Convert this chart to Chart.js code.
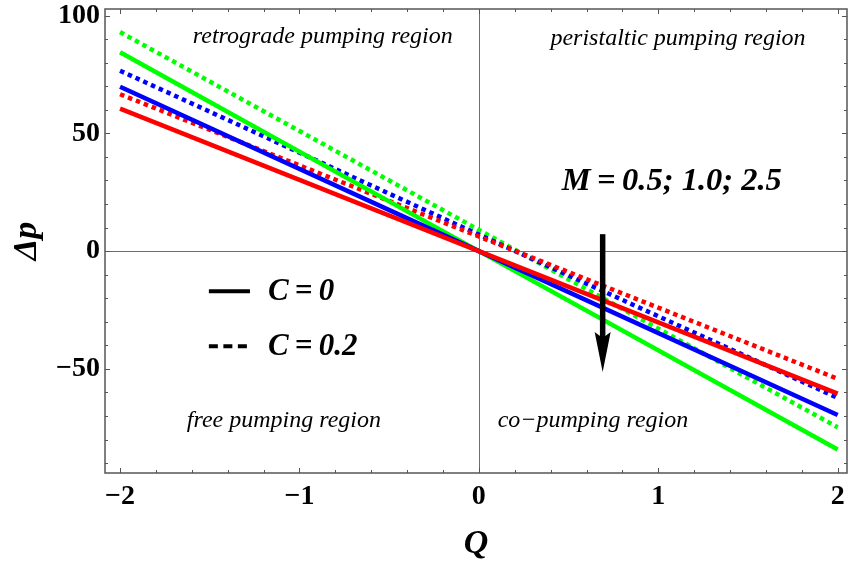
<!DOCTYPE html>
<html>
<head>
<meta charset="utf-8">
<script src="https://cdn.jsdelivr.net/npm/chart.js@4/dist/chart.umd.min.js"></script>
<style>
  html, body { margin: 0; padding: 0; background: #fff; }
  #wrap { width: 848px; height: 565px; }
</style>
</head>
<body>
<div id="wrap"><canvas id="pumpChart" width="848" height="565"></canvas></div>
<script>
// Pressure rise vs flow rate, for M = 0.5, 1.0, 2.5 and C = 0 / 0.2
const flowQ = [-2, 0, 2];
const dpC0M05 = [60.5, 0, -60.5];
const dpC0M10 = [69.8, 0, -69.6];
const dpC0M25 = [84.4, 0, -84.2];
const dpC02M05 = [66.6, 6.2, -54.2];
const dpC02M10 = [76.6, 7.0, -62.3];
const dpC02M25 = [93.0, 9.0, -74.8];

const xTicks = [-2, -1, 0, 1, 2];
const yTicks = [-50, 0, 50, 100];
const xMinorStep = 0.2;
const yMinorStep = 10;

const regionLabels = [
  { text: 'retrograde pumping region', q: -0.87, dp: 91 },
  { text: 'peristaltic pumping region', q: 1.11, dp: 90 },
  { text: 'free pumping region', q: -1.087, dp: -72 },
  { text: 'co\u2212pumping region', q: 0.636, dp: -72 }
];
const arrowFrom = { q: 0.69, dp: 7.2 };
const arrowTo = { q: 0.69, dp: -51.3 };

const SERIF = '"Liberation Serif", "Times New Roman", serif';
const RED = '#ff0000', BLUE = '#0000ff', GREEN = '#00ff00';
const DOTS = [4.5, 4];

function pts(ys) {
  return flowQ.map((q, i) => ({ x: q, y: ys[i] }));
}
function series(label, ys, color, dashed) {
  return {
    label: label,
    data: pts(ys),
    borderColor: color,
    borderWidth: 4.5,
    borderDash: dashed ? DOTS : [],
    borderCapStyle: 'butt',
    pointRadius: 0,
    fill: false,
    tension: 0
  };
}
function minus(v) {
  return String(v).replace('-', '\u2212');
}

// frame, inward ticks, zero lines, region labels, legend and arrow
const decorations = {
  id: 'decorations',
  beforeDatasetsDraw(chart) {
    const { ctx, chartArea: a, scales: { x, y } } = chart;
    ctx.save();
    ctx.strokeStyle = '#6e6e6e';
    ctx.lineWidth = 1;
    const x0 = Math.round(x.getPixelForValue(0)) + 0.5;
    const y0 = Math.round(y.getPixelForValue(0)) + 0.5;
    ctx.beginPath();
    ctx.moveTo(x0, a.top); ctx.lineTo(x0, a.bottom);
    ctx.moveTo(a.left, y0); ctx.lineTo(a.right, y0);
    ctx.stroke();
    ctx.restore();
  },
  afterDatasetsDraw(chart) {
    const { ctx, chartArea: a, scales: { x, y } } = chart;
    ctx.save();

    // frame
    ctx.strokeStyle = '#555';
    ctx.lineWidth = 1.5;
    ctx.strokeRect(a.left, a.top, a.right - a.left, a.bottom - a.top);

    // ticks pointing into the plot on all four sides
    ctx.lineWidth = 1;
    ctx.strokeStyle = '#555';
    ctx.beginPath();
    for (let q = -2; q <= 2.0001; q += xMinorStep) {
      const v = Math.round(q * 10) / 10;
      const len = Number.isInteger(v) ? 5 : 3;
      const px = Math.round(x.getPixelForValue(v)) + 0.5;
      ctx.moveTo(px, a.bottom); ctx.lineTo(px, a.bottom - len);
      ctx.moveTo(px, a.top); ctx.lineTo(px, a.top + len);
    }
    for (let d = -90; d <= 100; d += yMinorStep) {
      const len = d % 50 === 0 ? 5 : 3;
      const py = Math.round(y.getPixelForValue(d)) + 0.5;
      ctx.moveTo(a.left, py); ctx.lineTo(a.left + len, py);
      ctx.moveTo(a.right, py); ctx.lineTo(a.right - len, py);
    }
    ctx.stroke();

    // region names
    ctx.fillStyle = '#000';
    ctx.textAlign = 'center';
    ctx.textBaseline = 'middle';
    ctx.font = 'italic 24px ' + SERIF;
    regionLabels.forEach(r => {
      ctx.fillText(r.text, x.getPixelForValue(r.q), y.getPixelForValue(r.dp));
    });

    // M annotation
    ctx.font = 'italic bold 32.5px ' + SERIF;
    ctx.fillText('M\u2009=\u20090.5; 1.0; 2.5', x.getPixelForValue(1.075), y.getPixelForValue(29.5));

    // legend for C
    const lx1 = x.getPixelForValue(-1.505), lx2 = x.getPixelForValue(-1.276);
    const rows = [{ dp: -17, dash: [], text: 'C\u2009=\u20090' }, { dp: -40.4, dash: [9, 5.5], text: 'C\u2009=\u20090.2' }];
    ctx.font = 'italic bold 31px ' + SERIF;
    rows.forEach(r => {
      const py = y.getPixelForValue(r.dp);
      ctx.strokeStyle = '#000';
      ctx.lineWidth = 4;
      ctx.setLineDash(r.dash);
      ctx.beginPath();
      ctx.moveTo(lx1, py); ctx.lineTo(lx2, py);
      ctx.stroke();
      ctx.setLineDash([]);
      ctx.textAlign = 'left';
      ctx.fillText(r.text, x.getPixelForValue(-1.176), py + 1);
    });

    // arrow showing increasing M
    const ax = x.getPixelForValue(arrowFrom.q);
    const ay1 = y.getPixelForValue(arrowFrom.dp);
    const ay2 = y.getPixelForValue(arrowTo.dp);
    ctx.strokeStyle = '#000';
    ctx.fillStyle = '#000';
    ctx.lineWidth = 5.5;
    ctx.beginPath();
    ctx.moveTo(ax, ay1); ctx.lineTo(ax, ay2 - 30);
    ctx.stroke();
    ctx.beginPath();
    ctx.moveTo(ax, ay2);
    ctx.lineTo(ax - 8, ay2 - 40);
    ctx.lineTo(ax, ay2 - 34);
    ctx.lineTo(ax + 8, ay2 - 40);
    ctx.closePath();
    ctx.fill();

    ctx.restore();
  }
};

new Chart(document.getElementById('pumpChart'), {
  type: 'line',
  data: {
    datasets: [
      series('M = 0.5, C = 0', dpC0M05, RED, false),
      series('M = 1.0, C = 0', dpC0M10, BLUE, false),
      series('M = 2.5, C = 0', dpC0M25, GREEN, false),
      series('M = 0.5, C = 0.2', dpC02M05, RED, true),
      series('M = 1.0, C = 0.2', dpC02M10, BLUE, true),
      series('M = 2.5, C = 0.2', dpC02M25, GREEN, true)
    ]
  },
  options: {
    responsive: false,
    animation: false,
    layout: { padding: { top: 9, right: 1, left: 0, bottom: 0 } },
    plugins: {
      legend: { display: false },
      tooltip: { enabled: false }
    },
    scales: {
      x: {
        type: 'linear',
        min: -2.084,
        max: 2.052,
        afterBuildTicks: s => { s.ticks = xTicks.map(v => ({ value: v })); },
        afterFit: s => { s.height = 92; s.paddingLeft = 0; s.paddingRight = 0; },
        grid: { display: false, drawTicks: false },
        border: { display: false },
        ticks: {
          padding: 7,
          color: '#000',
          font: { family: SERIF, size: 28, weight: 'bold' },
          callback: v => minus(v),
          maxRotation: 0
        },
        title: {
          display: true,
          text: 'Q',
          color: '#000',
          padding: { top: 4, bottom: 0 },
          font: { family: SERIF, size: 34, weight: 'bold', style: 'italic' }
        }
      },
      y: {
        type: 'linear',
        min: -94.2,
        max: 102.8,
        afterBuildTicks: s => { s.ticks = yTicks.map(v => ({ value: v })); },
        afterFit: s => { s.width = 105; s.paddingTop = 0; s.paddingBottom = 0; },
        grid: { display: false, drawTicks: false },
        border: { display: false },
        ticks: {
          padding: 5,
          color: '#000',
          font: { family: SERIF, size: 28, weight: 'bold' },
          callback: v => minus(v)
        },
        title: {
          display: true,
          text: '\u0394p',
          color: '#000',
          padding: { top: 7, bottom: 0 },
          font: { family: SERIF, size: 34, weight: 'bold', style: 'italic' }
        }
      }
    }
  },
  plugins: [decorations]
});
</script>
</body>
</html>
